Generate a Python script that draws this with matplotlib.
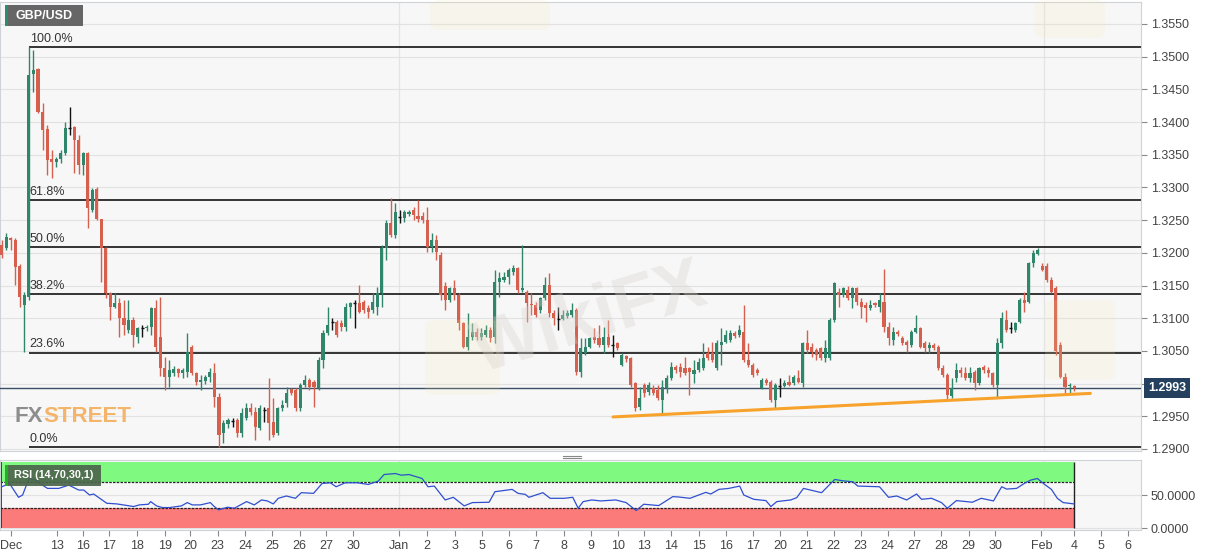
import matplotlib
matplotlib.use('Agg')
import matplotlib.pyplot as plt
import matplotlib.transforms as mtrans
from matplotlib.patches import Rectangle, FancyBboxPatch
from matplotlib.lines import Line2D

plt.rcParams['font.family'] = ['Liberation Sans', 'DejaVu Sans']

# ---------------- data (GBP/USD, 4H candles) ----------------
opens = [1.3212,1.3207,1.3223,1.3220,1.3180,1.3120,1.3132,1.3474,1.3481,1.3415,
         1.3389,1.3344,1.3339,1.3344,1.3353,1.3391,1.3392,1.3372,1.3334,1.3353,
         1.3265,1.3298,1.3252,1.3207,1.3138,1.3117,1.3123,1.3100,1.3082,1.3097,
         1.3071,1.3085,1.3085,1.3086,1.3115,1.3071,1.3024,1.3010,1.3016,1.3023,
         1.3016,1.3018,1.3056,1.3016,1.3002,1.3004,1.3010,1.3016,1.2979,1.2924,
         1.2938,1.2943,1.2945,1.2924,1.2947,1.2962,1.2956,1.2932,1.2960,1.2962,
         1.2942,1.2924,1.2962,1.2970,1.2992,1.2990,1.2962,1.2998,1.3006,1.3002,
         1.2993,1.3036,1.3077,1.3094,1.3094,1.3093,1.3086,1.3117,1.3123,1.3123,
         1.3125,1.3115,1.3112,1.3117,1.3138,1.3207,1.3246,1.3227,1.3256,1.3253,
         1.3260,1.3265,1.3256,1.3256,1.3250,1.3209,1.3220,1.3197,1.3150,1.3128,
         1.3146,1.3135,1.3093,1.3056,1.3071,1.3079,1.3071,1.3074,1.3082,1.3071,
         1.3155,1.3158,1.3163,1.3171,1.3177,1.3143,1.3140,1.3122,1.3120,1.3112,
         1.3131,1.3151,1.3108,1.3100,1.3099,1.3104,1.3105,1.3112,1.3018,1.3047,
         1.3056,1.3071,1.3069,1.3059,1.3071,1.3059,1.3062,1.3029,1.3042,1.3039,
         1.3001,1.2964,1.2998,1.2987,1.2993,1.2990,1.2975,1.2993,1.3009,1.3026,
         1.3026,1.3024,1.3024,1.3015,1.3021,1.3024,1.3047,1.3047,1.3024,1.3059,
         1.3064,1.3067,1.3077,1.3074,1.3079,1.3036,1.3029,1.3021,1.2993,1.3006,
         1.3002,1.2975,1.2996,1.2996,1.3002,1.3001,1.3009,1.3001,1.3062,1.3056,
         1.3051,1.3054,1.3039,1.3039,1.3097,1.3140,1.3135,1.3143,1.3131,1.3146,
         1.3125,1.3120,1.3115,1.3123,1.3117,1.3125,1.3086,1.3067,1.3079,1.3070,
         1.3064,1.3059,1.3079,1.3085,1.3062,1.3054,1.3059,1.3056,1.3024,1.3013,
         1.2981,1.3009,1.3021,1.3016,1.3009,1.3018,1.3001,1.3026,1.3021,1.3016,
         1.2998,1.3062,1.3097,1.3086,1.3082,1.3094,1.3128,1.3125,1.3184,1.3198,
         1.3180,1.3180,1.3158,1.3146,1.3059,1.3010,1.2996,1.2996]
highs = [1.3220,1.3230,1.3224,1.3223,1.3183,1.3140,1.3515,1.3510,1.3483,1.3429,
         1.3396,1.3357,1.3347,1.3357,1.3400,1.3423,1.3394,1.3380,1.3354,1.3354,
         1.3299,1.3301,1.3252,1.3209,1.3140,1.3138,1.3131,1.3128,1.3128,1.3102,
         1.3086,1.3089,1.3089,1.3117,1.3128,1.3132,1.3041,1.3036,1.3027,1.3024,
         1.3024,1.3077,1.3059,1.3018,1.3013,1.3013,1.3024,1.3032,1.2985,1.2945,
         1.2948,1.2948,1.2948,1.2962,1.2970,1.2970,1.2964,1.2967,1.2964,1.3009,
         1.2978,1.2964,1.2975,1.2995,1.2994,1.2994,1.3001,1.3013,1.3009,1.3006,
         1.3041,1.3082,1.3117,1.3100,1.3097,1.3097,1.3123,1.3125,1.3128,1.3151,
         1.3128,1.3120,1.3138,1.3148,1.3212,1.3250,1.3284,1.3276,1.3265,1.3265,
         1.3265,1.3270,1.3281,1.3262,1.3270,1.3230,1.3227,1.3201,1.3155,1.3148,
         1.3158,1.3138,1.3094,1.3108,1.3093,1.3085,1.3085,1.3089,1.3086,1.3174,
         1.3171,1.3171,1.3177,1.3181,1.3178,1.3212,1.3143,1.3138,1.3125,1.3132,
         1.3163,1.3169,1.3112,1.3117,1.3112,1.3112,1.3123,1.3115,1.3070,1.3070,
         1.3071,1.3085,1.3089,1.3086,1.3097,1.3074,1.3064,1.3047,1.3044,1.3041,
         1.3002,1.2995,1.3001,1.3002,1.2998,1.2998,1.3006,1.3013,1.3033,1.3029,
         1.3032,1.3041,1.3026,1.3036,1.3039,1.3062,1.3056,1.3064,1.3067,1.3085,
         1.3082,1.3082,1.3080,1.3089,1.3120,1.3062,1.3032,1.3024,1.3009,1.3009,
         1.3006,1.3001,1.3009,1.3006,1.3013,1.3013,1.3021,1.3064,1.3082,1.3062,
         1.3054,1.3056,1.3067,1.3100,1.3155,1.3146,1.3148,1.3149,1.3148,1.3148,
         1.3131,1.3125,1.3128,1.3125,1.3138,1.3175,1.3094,1.3086,1.3082,1.3073,
         1.3067,1.3082,1.3105,1.3086,1.3065,1.3064,1.3062,1.3059,1.3029,1.3016,
         1.3009,1.3032,1.3026,1.3026,1.3026,1.3021,1.3026,1.3029,1.3026,1.3018,
         1.3070,1.3109,1.3112,1.3094,1.3094,1.3131,1.3140,1.3186,1.3204,1.3207,
         1.3184,1.3184,1.3163,1.3149,1.3064,1.3016,1.3001,1.2998]
lows = [1.3192,1.3204,1.3204,1.3151,1.3117,1.3048,1.3128,1.3446,1.3414,1.3357,
        1.3319,1.3314,1.3331,1.3337,1.3350,1.3380,1.3322,1.3321,1.3319,1.3238,
        1.3262,1.3250,1.3155,1.3131,1.3097,1.3115,1.3071,1.3074,1.3077,1.3056,
        1.3062,1.3071,1.3080,1.3074,1.3048,1.3012,1.2990,1.2995,1.3012,1.3010,
        1.3009,1.3010,1.3013,1.2998,1.2990,1.3000,1.3002,1.2964,1.2903,1.2909,
        1.2932,1.2934,1.2918,1.2918,1.2944,1.2952,1.2914,1.2929,1.2942,1.2914,
        1.2918,1.2921,1.2958,1.2964,1.2982,1.2958,1.2958,1.2995,1.2990,1.2964,
        1.2990,1.3024,1.3074,1.3082,1.3071,1.3080,1.3080,1.3100,1.3085,1.3108,
        1.3108,1.3100,1.3108,1.3105,1.3117,1.3189,1.3224,1.3222,1.3245,1.3247,
        1.3256,1.3250,1.3247,1.3246,1.3201,1.3201,1.3189,1.3128,1.3112,1.3125,
        1.3128,1.3082,1.3054,1.3051,1.3067,1.3067,1.3067,1.3071,1.3064,1.3062,
        1.3132,1.3155,1.3153,1.3166,1.3138,1.3140,1.3094,1.3105,1.3102,1.3108,
        1.3128,1.3102,1.3089,1.3082,1.3097,1.3100,1.3102,1.3013,1.3010,1.3044,
        1.3054,1.3062,1.3056,1.3047,1.3056,1.3041,1.3051,1.3027,1.3033,1.2995,
        1.2958,1.2959,1.2979,1.2982,1.2982,1.2975,1.2952,1.2985,1.3006,1.3016,
        1.3010,1.3013,1.2982,1.3001,1.3018,1.3021,1.3036,1.3033,1.3021,1.3029,
        1.3062,1.3064,1.3070,1.3071,1.3033,1.3026,1.3010,1.3013,1.2992,1.2998,
        1.2972,1.2962,1.2979,1.2995,1.2996,1.2998,1.3001,1.2995,1.3047,1.3041,
        1.3036,1.3036,1.3033,1.3036,1.3094,1.3117,1.3132,1.3128,1.3115,1.3120,
        1.3100,1.3094,1.3112,1.3117,1.3109,1.3079,1.3059,1.3059,1.3073,1.3059,
        1.3048,1.3056,1.3077,1.3054,1.3048,1.3047,1.3051,1.3021,1.3010,1.2975,
        1.2978,1.3002,1.3010,1.3006,1.3002,1.2990,1.2998,1.3016,1.3010,1.2995,
        1.2978,1.3054,1.3079,1.3077,1.3079,1.3093,1.3109,1.3123,1.3178,1.3197,
        1.3172,1.3155,1.3138,1.3044,1.3009,1.2982,1.2985,1.2989]
closes = [1.3197,1.3224,1.3220,1.3178,1.3132,1.3135,1.3472,1.3480,1.3415,1.3388,
          1.3342,1.3339,1.3344,1.3353,1.3391,1.3392,1.3372,1.3334,1.3353,1.3269,
          1.3296,1.3252,1.3207,1.3138,1.3117,1.3123,1.3100,1.3089,1.3097,1.3074,
          1.3085,1.3086,1.3087,1.3115,1.3056,1.3024,1.3010,1.3021,1.3023,1.3016,
          1.3021,1.3048,1.3016,1.3002,1.3006,1.3010,1.3018,1.2979,1.2921,1.2940,
          1.2945,1.2942,1.2924,1.2955,1.2962,1.2956,1.2934,1.2962,1.2959,1.2940,
          1.2921,1.2962,1.2967,1.2985,1.2985,1.2962,1.2998,1.3006,1.2995,1.2995,
          1.3036,1.3077,1.3089,1.3093,1.3074,1.3086,1.3117,1.3123,1.3122,1.3109,
          1.3112,1.3109,1.3125,1.3138,1.3207,1.3246,1.3227,1.3262,1.3255,1.3262,
          1.3263,1.3258,1.3252,1.3250,1.3209,1.3220,1.3201,1.3135,1.3128,1.3146,
          1.3135,1.3093,1.3056,1.3071,1.3079,1.3071,1.3077,1.3082,1.3070,1.3155,
          1.3161,1.3163,1.3174,1.3177,1.3143,1.3146,1.3123,1.3120,1.3105,1.3131,
          1.3151,1.3108,1.3100,1.3099,1.3105,1.3108,1.3112,1.3018,1.3054,1.3056,
          1.3070,1.3067,1.3059,1.3071,1.3059,1.3058,1.3054,1.3044,1.3038,1.2998,
          1.2962,1.2978,1.2985,1.2998,1.2985,1.2978,1.2995,1.3009,1.3026,1.3021,
          1.3018,1.3016,1.3018,1.3021,1.3033,1.3039,1.3039,1.3036,1.3062,1.3064,
          1.3074,1.3077,1.3073,1.3082,1.3036,1.3029,1.3013,1.3016,1.3006,1.3001,
          1.2975,1.2998,1.2997,1.3001,1.2998,1.3010,1.3002,1.3062,1.3051,1.3048,
          1.3044,1.3039,1.3054,1.3097,1.3154,1.3135,1.3146,1.3131,1.3146,1.3125,
          1.3117,1.3115,1.3120,1.3120,1.3128,1.3086,1.3070,1.3079,1.3076,1.3062,
          1.3059,1.3079,1.3085,1.3056,1.3054,1.3059,1.3054,1.3024,1.3013,1.2982,
          1.2993,1.3021,1.3016,1.3009,1.3016,1.3001,1.3024,1.3021,1.3016,1.2998,
          1.3062,1.3100,1.3082,1.3085,1.3093,1.3128,1.3123,1.3184,1.3200,1.3204,
          1.3174,1.3158,1.3140,1.3050,1.3010,1.2995,1.2998,1.2993]

# RSI(14) readings: candle index -> value
rsi_idx = [0, 1.7, 3.7, 4.6, 6, 7.5, 8.4, 10.1, 12.6, 14.8, 17, 18.1, 19.4, 20.3, 23.2,
           25.4, 27.8, 29.1, 30.4, 32.4, 32.9, 34.2, 35.5, 37.1, 39.7, 41, 42.1, 43.9,
           46.1, 46.8, 47.9, 49.9, 51.4, 54.1, 55.8, 57.4, 58.7, 60, 61.1, 62.9, 64.9,
           66.2, 68.9, 70.8, 72.6, 73.9, 75.9, 78.6, 81, 83.2, 84.5, 87, 88.3, 90, 92.9,
           94.2, 95.6, 98, 99.8, 102.2, 104, 107.7, 109, 112.8, 114.1, 115.7, 116.5,
           119.6, 121.2, 124.3, 126.2, 127.4, 128.5, 130.4, 132.4, 135.7, 138, 140.2,
           141.9, 145.2, 148.3, 149.6, 152.1, 155.6, 156.7, 158.5, 160.7, 163.1, 164,
           166.2, 168.9, 170, 171.3, 174.4, 175.7, 177.2, 181.2, 184.1, 185.9, 188.1,
           189.2, 194, 196, 197.8, 200, 202.2, 203.3, 205.5, 207.7, 209, 211, 213.2,
           214.5, 216.5, 219.2, 221, 222.1, 224.3, 226, 227.4, 228.9, 230.2, 232,
           233.3, 234.6, 237]
rsi_vals = [62.5, 67.5, 46.5, 50, 75, 72.5, 67.5, 60, 60, 65, 57.5, 57.5, 50, 51.5, 37.5,
            36.5, 34, 32.5, 35, 36, 40, 33.5, 31, 31, 33.5, 38.5, 35, 35,
            38.5, 33.5, 27.5, 31.5, 30, 40, 35, 42.5, 41, 36.5, 45, 48.5, 45,
            53.5, 52.5, 67.5, 68.5, 62.5, 68.5, 68.5, 66, 71, 81, 82.5, 80, 81, 75,
            62.5, 63.5, 42.5, 46.5, 33.5, 38.5, 39, 55, 58.5, 52.5, 51, 46.5,
            53.5, 45, 45, 46.5, 30, 40, 42.5, 41, 42.5, 38.5, 26.5,
            36, 34, 47.5, 47, 45, 54, 51.5, 58.5, 60, 63.5, 50,
            43.5, 41.5, 32.5, 40, 42.5, 46, 60, 53.5, 73.5, 71.5, 70,
            63.5, 62.5, 46.5, 48.5, 42.5, 51.5, 43.5, 45, 38.5, 30, 41.5, 40,
            39, 45, 41, 62.5, 59, 60, 67.5, 72.5, 75, 67.5, 58.5,
            45, 38.5, 36.5]

# Fibonacci retracement anchors (swing high Dec 13, swing low Dec 23)
fib_high = 1.3515
fib_low = 1.2903
fib_ratios = [1.0, 0.618, 0.5, 0.382, 0.236, 0.0]
fib_labels = ['100.0%', '61.8%', '50.0%', '38.2%', '23.6%', '0.0%']
fib_start = 6

# rising support line (two anchor points: candle index, price)
trend_x = [135.1, 240.6]
trend_y = [1.2949, 1.2985]

price_ticks = [1.2900, 1.2950, 1.3000, 1.3050, 1.3100, 1.3150, 1.3200, 1.3250,
               1.3300, 1.3350, 1.3400, 1.3450, 1.3500, 1.3550]
date_labels = ['Dec', '13', '16', '17', '18', '19', '20', '23', '24', '25', '26', '27',
               '30', 'Jan', '2', '3', '5', '6', '7', '8', '9', '10', '13', '14', '15',
               '16', '17', '20', '21', '22', '23', '24', '27', '28', '29', '30', 'Feb',
               '4', '5', '6']
date_pos = [2, 12.1, 17.9, 23.8, 29.8, 36.0, 41.7, 47.7, 53.8, 59.8, 65.8, 71.7, 77.7,
            87.8, 94.0, 100.2, 106.2, 112.1, 118.1, 124.3, 130.2, 136.2, 141.9, 147.9,
            154.1, 160.0, 166.0, 172.0, 177.9, 183.9, 189.8, 195.8, 201.7, 207.7, 213.7,
            219.6, 229.8, 237.1, 243.0, 249.0]
month_lines = [87.8, 230.4]

# ---------------- figure ----------------
W, H = 1207, 555
fig = plt.figure(figsize=(W / 100, H / 100), dpi=100)
fig.patch.set_facecolor('white')

XL = (-0.4, 251.8)
panel_bg = '#f7f7f7'
grid_c = '#e2e2e2'
spine_c = '#cfd3d8'
txt_c = '#444444'

ax = fig.add_axes([0, 1 - 451 / H, 1141 / W, 449 / H])
ax.set_facecolor(panel_bg)
ax.set_xlim(*XL)
ax.set_ylim(1.28969, 1.35836)
ax.yaxis.tick_right()
ax.set_yticks(price_ticks)
ax.set_yticklabels(['' if abs(t - 1.3) < 1e-9 else f'{t:.4f}' for t in price_ticks])
ax.tick_params(axis='y', direction='out', length=4, width=0.8, color='#888888',
               labelsize=9, labelcolor=txt_c, pad=3)
ax.tick_params(axis='x', bottom=False, labelbottom=False)
ax.grid(axis='y', color=grid_c, lw=0.8)
ax.set_axisbelow(True)
for s in ax.spines.values():
    s.set_color(spine_c)
    s.set_linewidth(0.8)
for m in month_lines:
    ax.axvline(m, color='#e4e4e4', lw=0.9, zorder=0.5)

# faint watermarks
fig.text(590 / W, 1 - 320 / H, 'WikiFX', color='#d9d3cc', alpha=0.35, fontsize=52,
         fontweight='bold', rotation=17, ha='center', va='center', zorder=0.6)
for (x0, y0, w, h) in [(425, 320, 75, 75), (1045, 300, 70, 80), (430, 0, 120, 30), (1035, 0, 70, 38)]:
    fig.patches.append(FancyBboxPatch((x0 / W, 1 - (y0 + h) / H), w / W, h / H,
                                      boxstyle='round,pad=0,rounding_size=0.01',
                                      transform=fig.transFigure, fc='#f3e3a8', ec='none',
                                      alpha=0.15, zorder=0.6))

# candles
green, red = '#30866a', '#d6604d'
for i, (o, h, l, c) in enumerate(zip(opens, highs, lows, closes)):
    if abs(c - o) <= 0.00015:
        col = '#111111'
    elif c > o:
        col = green
    else:
        col = red
    ax.vlines(i, l, h, color=col, lw=1.0, zorder=3)
    if col == '#111111':
        ax.hlines((o + c) / 2, i - 0.33, i + 0.33, color=col, lw=1.0, zorder=3)
    else:
        bot = min(o, c)
        hgt = max(abs(c - o), 0.00012)
        ax.bar(i, hgt, bottom=bot, width=0.68, color=col, lw=0, zorder=3)

# fibonacci levels
rng = fib_high - fib_low
for r, lab in zip(fib_ratios, fib_labels):
    lvl = fib_low + r * rng
    ax.hlines(lvl, fib_start, XL[1], color='black', lw=1.1, zorder=2.5)
    ax.annotate(lab, (fib_start, lvl), xytext=(0.5, 1.5), textcoords='offset points',
                ha='left', va='bottom', fontsize=9, color='#333333', zorder=4)

# support line
ax.plot(trend_x, trend_y, color='#f7a22a', lw=2.2, solid_capstyle='round', zorder=4)

# last price line + label
last = closes[-1]
ax.axhline(last, color='#3a4e66', lw=1.0, zorder=2.6)
btr = mtrans.blended_transform_factory(fig.transFigure, ax.transData)
ax.text(1148 / W, last, f'{last:.4f}', transform=btr, ha='left', va='center',
        fontsize=9, fontweight='bold', color='white', clip_on=False, zorder=20,
        bbox=dict(boxstyle='square,pad=0.3', fc='#24405e', ec='none'))

# ---------------- RSI panel ----------------
rax = fig.add_axes([0, 1 - 530 / H, 1141 / W, 70 / H])
rax.set_facecolor(panel_bg)
rax.set_xlim(*XL)
rax.set_ylim(-3, 103)
rax.yaxis.tick_right()
rax.set_yticks([0, 50])
rax.set_yticklabels(['0.0000', '50.0000'])
rax.tick_params(axis='y', direction='out', length=4, width=0.8, color='#888888',
                labelsize=9, labelcolor=txt_c, pad=3)
rax.set_xticks(date_pos)
rax.set_xticklabels(date_labels)
rax.tick_params(axis='x', direction='out', length=4, width=0.8, color='#888888',
                labelsize=9, labelcolor=txt_c, pad=3)
rax.grid(axis='y', color=grid_c, lw=0.8)
rax.set_axisbelow(True)
for s in rax.spines.values():
    s.set_color(spine_c)
    s.set_linewidth(0.8)
for m in month_lines:
    rax.axvline(m, color='#e4e4e4', lw=0.9, zorder=0.5)

band_end = len(closes) - 1 + 0.1
rax.add_patch(Rectangle((XL[0], 70), band_end - XL[0], 30, fc='#7ff97f', ec='none', zorder=1))
rax.add_patch(Rectangle((XL[0], 0), band_end - XL[0], 30, fc='#fb7b7b', ec='none', zorder=1))
rax.hlines([70, 30], XL[0], band_end, colors='#222222', lw=0.9, linestyles=(0, (2, 1)), zorder=2)
rax.vlines([band_end], 0, 100, colors='#222222', lw=1.0, zorder=2)
rax.vlines([XL[0] + 0.25], 0, 100, colors='#222222', lw=1.2, zorder=2)
rax.plot(rsi_idx, rsi_vals, color='#2f4fd0', lw=0.9, zorder=3)

# ---------------- labels / logos ----------------
fig.patches.append(Rectangle((5 / W, 1 - 26 / H), 78 / W, 21 / H, transform=fig.transFigure,
                             fc='#666666', ec='none', zorder=10))
fig.patches.append(Rectangle((5 / W, 1 - 26 / H), 2.5 / W, 21 / H, transform=fig.transFigure,
                             fc='#2e8b6e', ec='none', zorder=11))
fig.text(16 / W, 1 - 16 / H, 'GBP/USD', color='white', fontsize=9, fontweight='bold',
         ha='left', va='center', zorder=12)

fig.patches.append(Rectangle((5 / W, 1 - 486 / H), 96 / W, 21 / H, transform=fig.transFigure,
                             fc='#4b654b', ec='none', alpha=0.92, zorder=10))
fig.patches.append(Rectangle((5 / W, 1 - 486 / H), 2.5 / W, 21 / H, transform=fig.transFigure,
                             fc='#22b022', ec='none', zorder=11))
fig.text(14 / W, 1 - 475.5 / H, 'RSI (14,70,30,1)', color='white', fontsize=7.8,
         fontweight='bold', ha='left', va='center', zorder=12)

fx_kw = dict(fontsize=16, fontweight='bold', ha='left', va='center', zorder=5)
t1 = fig.text(15 / W, 1 - 417 / H, 'FX', color='#8d8d8d', **fx_kw)
fig.canvas.draw()
bb = t1.get_window_extent()
fig.text(bb.x1 / W, 1 - 417 / H, 'STREET', color='#f4b46a', **fx_kw)

# panel splitter handle
for yy in (455.5, 458):
    fig.add_artist(Line2D([563 / W, 581 / W], [1 - yy / H, 1 - yy / H], color='#888888', lw=0.8))

fig.savefig('out.png', dpi=100, facecolor='white')
